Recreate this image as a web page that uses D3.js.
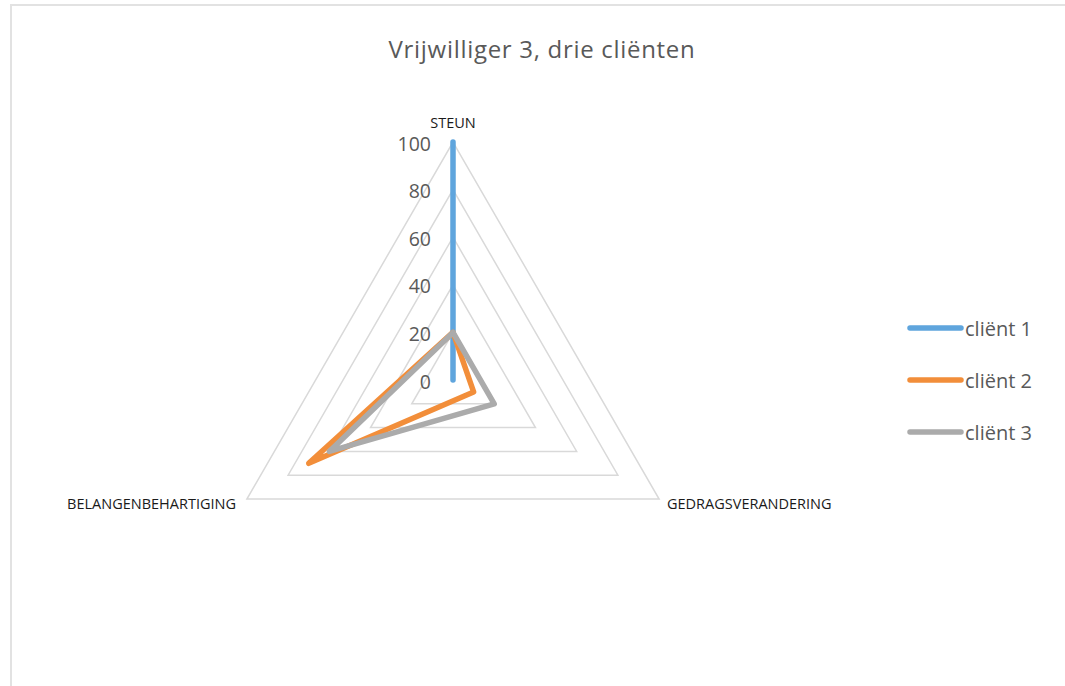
<!DOCTYPE html>
<html>
<head>
<meta charset="utf-8">
<script src="https://cdn.jsdelivr.net/npm/d3@7"></script>
<style>
  body { margin: 0; background: #fff; }
  svg { display: block; }
</style>
</head>
<body>
<script>
// data
const axes = ['STEUN', 'GEDRAGSVERANDERING', 'BELANGENBEHARTIGING']
const seriesNames = ['cliënt 1', 'cliënt 2', 'cliënt 3']
const client1 = [100, 0, 0]
const client2 = [20, 10, 70]
const client3 = [20, 20, 60]
const ticks = [0, 20, 40, 60, 80, 100]
const colors = ['#5fa5dd', '#f28e3a', '#ababab']

{
    let width = 1065
    let height = 686
    let svg = d3.select('body').append('svg')
        .attr('width', width)
        .attr('height', height)

    // chart border (only top and left show)
    svg.append('rect')
        .attr('x', 11)
        .attr('y', 5)
        .attr('width', 1100)
        .attr('height', 700)
        .attr('fill', 'none')
        .attr('stroke', '#e2e2e2')
        .attr('stroke-width', 2)

    svg.append('text')
        .attr('x', 542)
        .attr('y', 58)
        .attr('text-anchor', 'middle')
        .attr('font-family', 'Open Sans, sans-serif')
        .attr('font-size', 24)
        .attr('letter-spacing', 0.7)
        .attr('fill', '#595959')
        .text('Vrijwilliger 3, drie cliënten')

    let cx = 453
    let cy = 380
    let r = d3.scaleLinear().domain([0, 100]).range([0, 238])
    let angle = i => -Math.PI / 2 + i * 2 * Math.PI / axes.length
    let pt = (v, i) => [cx + r(v) * Math.cos(angle(i)), cy + r(v) * Math.sin(angle(i))]

    let g = svg.append('g')

    // grid triangles
    let lineClosed = d3.line().curve(d3.curveLinearClosed)
    g.selectAll('path.grid').data(ticks.slice(1))
        .enter()
        .append('path')
        .attr('class', 'grid')
        .attr('d', t => lineClosed(axes.map((a, i) => pt(t, i))))
        .attr('fill', 'none')
        .attr('stroke', '#d9d9d9')
        .attr('stroke-width', 1.5)

    // tick labels
    g.selectAll('text.tick').data(ticks)
        .enter()
        .append('text')
        .attr('class', 'tick')
        .attr('x', cx - 22)
        .attr('y', t => cy - r(t) + 8.5)
        .attr('text-anchor', 'end')
        .attr('font-family', 'Open Sans, sans-serif')
        .attr('font-size', 19.5)
        .attr('fill', '#595959')
        .text(t => t)

    // axis labels
    let labelPos = [
        {x: cx, y: 128, anchor: 'middle'},
        {x: 667, y: 509, anchor: 'start'},
        {x: 236, y: 509, anchor: 'end'}
    ]
    g.selectAll('text.axis').data(axes)
        .enter()
        .append('text')
        .attr('class', 'axis')
        .attr('x', (a, i) => labelPos[i].x)
        .attr('y', (a, i) => labelPos[i].y)
        .attr('text-anchor', (a, i) => labelPos[i].anchor)
        .attr('font-family', 'Open Sans, sans-serif')
        .attr('font-size', 14.5)
        .attr('fill', '#1a1a1a')
        .text(a => a)

    // series
    let data = [client1, client2, client3]
    g.selectAll('path.series').data(data)
        .enter()
        .append('path')
        .attr('class', 'series')
        .attr('d', vals => lineClosed(vals.map((v, i) => pt(v, i))))
        .attr('fill', 'none')
        .attr('stroke', (d, i) => colors[i])
        .attr('stroke-width', 5.5)
        .attr('stroke-linejoin', 'round')
        .attr('stroke-linecap', 'round')

    // legend
    let legend = svg.append('g')
    let ly = d3.scalePoint().domain(seriesNames).range([328, 432])
    legend.selectAll('line').data(seriesNames)
        .enter()
        .append('line')
        .attr('x1', 910)
        .attr('x2', 961)
        .attr('y1', d => ly(d))
        .attr('y2', d => ly(d))
        .attr('stroke', (d, i) => colors[i])
        .attr('stroke-width', 5.5)
        .attr('stroke-linecap', 'round')
    legend.selectAll('text').data(seriesNames)
        .enter()
        .append('text')
        .attr('x', 965)
        .attr('y', d => ly(d) + 8)
        .attr('font-family', 'Open Sans, sans-serif')
        .attr('font-size', 20)
        .attr('fill', '#595959')
        .text(d => d)
}
</script>
</body>
</html>
